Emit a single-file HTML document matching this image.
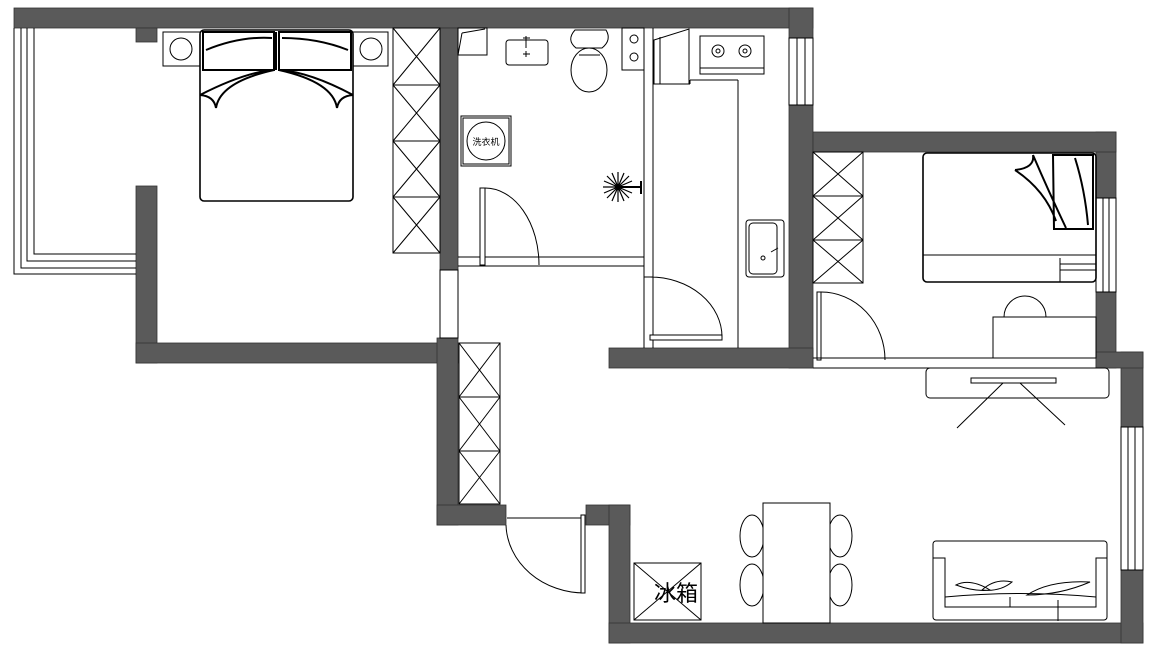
<!DOCTYPE html>
<html><head><meta charset="utf-8"><style>
html,body{margin:0;padding:0;background:#fff;width:1150px;height:665px;overflow:hidden}
svg{display:block}
.w{fill:#5a5a5a;stroke:#333;stroke-width:0.8}
.t{fill:none;stroke:#000;stroke-width:1}
.f{fill:#fff;stroke:#000;stroke-width:1}
.b{fill:none;stroke:#000;stroke-width:2}
</style></head><body>
<svg width="1150" height="665" viewBox="0 0 1150 665" xmlns="http://www.w3.org/2000/svg">
<!-- walls -->
<rect class="w" x="14" y="8" width="799" height="20"/>
<rect class="w" x="136" y="28" width="21" height="14"/>
<rect class="w" x="136" y="186" width="21" height="177"/>
<rect class="w" x="136" y="343" width="322" height="20"/>
<rect class="w" x="440" y="28" width="18" height="242"/>
<rect class="w" x="437" y="338" width="21" height="187"/>
<rect class="w" x="437" y="505" width="69" height="20"/>
<rect class="w" x="586" y="505" width="44" height="20"/>
<rect class="w" x="609" y="505" width="21" height="138"/>
<rect class="w" x="609" y="623" width="534" height="20"/>
<rect class="w" x="1121" y="352" width="22" height="291"/>
<rect class="w" x="1096" y="132" width="20" height="236"/>
<rect class="w" x="1096" y="352" width="47" height="16"/>
<rect class="w" x="789" y="8" width="24" height="360"/>
<rect class="w" x="813" y="132" width="303" height="20"/>
<rect class="w" x="609" y="348" width="204" height="20"/>
<!-- windows -->
<path class="t" d="M14 28V274H136M21 28V268H136M27 28V261H136M34 28V254H136"/>
<rect class="f" x="789" y="38" width="24" height="67"/>
<path class="t" d="M797 38V105M805 38V105"/>
<rect class="f" x="1096" y="198" width="20" height="94"/>
<path class="t" d="M1103 198V292M1109 198V292"/>
<rect class="f" x="1121" y="427" width="22" height="143"/>
<path class="t" d="M1128 427V570M1135 427V570"/>
<!-- door opening between bedroom1 & living -->
<rect class="f" x="440" y="270" width="18" height="68"/>
<!-- bedroom1 wardrobe -->
<rect class="f" x="393" y="28" width="47" height="225"/>
<path class="t" d="M393 85H440M393 141H440M393 197H440M393 28L440 85M440 28L393 85M393 85L440 141M440 85L393 141M393 141L440 197M440 141L393 197M393 197L440 253M440 197L393 253"/>
<!-- nightstands -->
<rect class="f" x="163" y="32" width="37" height="34"/><circle class="t" cx="181" cy="49" r="11"/>
<rect class="f" x="353" y="32" width="35" height="34"/><circle class="t" cx="371" cy="49" r="11"/>
<!-- bed1 -->
<rect class="f" x="200" y="30" width="153" height="171" rx="4" style="stroke-width:1.6"/>
<path class="b" d="M203 32H274V70H203ZM279 32H351V70H279Z"/>
<path class="b" d="M276 32V70M206 50Q240 36 272 38M282 38Q318 38 348 50M200 95Q245 72 274 70M353 95Q310 72 279 70M200 95Q214 96 216 108M353 95Q339 96 337 108M216 108Q220 82 274 70M337 108Q333 82 279 70"/>
<!-- bathroom -->
<path class="t" d="M644 28V348M653 28V348M458 257H644M458 266H644"/>
<path class="f" d="M458 28H487V55H458Z"/><path class="t" d="M462 33L485 29M462 33L458 55"/>
<rect class="f" x="506" y="40" width="42" height="25" rx="3"/><path class="t" d="M526 36V48M523 38H530M526 51V57M523 54H530"/>
<path class="f" d="M575 30H606Q612 40 602 48H576Q566 40 575 30Z"/><ellipse class="f" cx="589" cy="70" rx="18" ry="22"/><path class="t" d="M579 55H600"/>
<rect class="f" x="622" y="28" width="22" height="42"/><circle class="t" cx="634" cy="39" r="4"/><circle class="t" cx="634" cy="57" r="4"/>
<rect class="f" x="461" y="116" width="50" height="50"/><rect class="t" x="463" y="118" width="46" height="46"/><circle class="t" cx="486" cy="141" r="19"/>
<text x="486" y="145" font-family="Liberation Sans, Noto Sans CJK SC, sans-serif" font-size="9" text-anchor="middle">洗衣机</text>
<g stroke="#000" stroke-width="1.2"><path d="M603 187H633M618 172V202M607 176L629 198M629 176L607 198M604 181L632 193M604 193L632 181M612 173L624 201M624 173L612 201"/></g>
<path class="b" d="M618 187H641M641 181V194"/>
<!-- bath door -->
<rect class="f" x="480" y="188" width="5" height="77"/>
<path class="t" d="M485 188A54 77 0 0 1 539 265"/>
<!-- kitchen -->
<path class="t" d="M653 84H690M690 80V84M738 80V348M690 80H738"/>
<path class="f" d="M654 84V40L689 29V84Z"/><path class="t" d="M660 37V84"/>
<rect class="f" x="700" y="36" width="64" height="38"/><path class="t" d="M700 68H764"/>
<circle class="t" cx="718" cy="51" r="6"/><circle class="t" cx="745" cy="51" r="6"/><circle class="t" cx="718" cy="51" r="2"/><circle class="t" cx="745" cy="51" r="2"/>
<rect class="f" x="746" y="220" width="38" height="57" rx="3"/><rect class="t" x="749" y="223" width="28" height="51" rx="4"/>
<circle class="t" cx="763" cy="258" r="2"/><path class="t" d="M771 252L778 248"/>
<!-- kitchen door -->
<rect class="f" x="650" y="335" width="72" height="5"/>
<path class="t" d="M650 277A72 60 0 0 1 722 337M644 277H653"/>
<!-- bedroom2 -->
<rect class="f" x="813" y="152" width="50" height="131"/>
<path class="t" d="M813 196H863M813 240H863M813 152L863 196M863 152L813 196M813 196L863 240M863 196L813 240M813 240L863 283M863 240L813 283"/>
<rect class="f" x="923" y="153" width="173" height="129" rx="4" style="stroke-width:1.6"/>
<path class="t" d="M923 255H1096M1060 258V282M1060 264H1096M1060 270H1096"/>
<path class="b" d="M1053 155H1093V229H1054ZM1015 170Q1035 168 1033 155M1015 170Q1045 190 1056 221M1033 155Q1048 190 1066 228M1075 158Q1085 190 1088 225"/>
<rect class="f" x="993" y="317" width="103" height="41"/>
<path class="f" d="M1004 317A21 21 0 0 1 1046 317Z"/>
<rect class="f" x="817" y="292" width="4" height="68"/>
<path class="t" d="M821 292A64 68 0 0 1 885 360M813 358H1096M813 368H1096"/>
<!-- tv -->
<rect class="f" x="926" y="368" width="183" height="30" rx="4"/>
<rect class="f" x="971" y="378" width="85" height="5"/>
<path class="t" d="M1003 383L957 428M1020 383L1065 425"/>
<!-- living wardrobe -->
<rect class="f" x="459" y="343" width="41" height="161"/>
<path class="t" d="M459 397H500M459 451H500M459 343L500 397M500 343L459 397M459 397L500 451M500 397L459 451M459 451L500 504M500 451L459 504"/>
<!-- entrance door -->
<path class="t" d="M507 518H585M506 525A79 70 0 0 0 585 593"/>
<rect class="f" x="581" y="515" width="4" height="78"/>
<!-- fridge -->
<rect class="f" x="634" y="563" width="67" height="57"/>
<path class="t" d="M634 563L701 620M701 563L634 620"/>
<text x="676" y="601" font-family="Liberation Sans, Noto Sans CJK SC, sans-serif" font-size="22" text-anchor="middle">冰箱</text>
<!-- dining -->
<ellipse class="f" cx="752" cy="536" rx="12" ry="21"/><ellipse class="f" cx="752" cy="585" rx="12" ry="21"/>
<ellipse class="f" cx="840" cy="536" rx="12" ry="21"/><ellipse class="f" cx="840" cy="585" rx="12" ry="21"/>
<rect class="f" x="763" y="503" width="67" height="120"/>
<!-- sofa -->
<rect class="f" x="933" y="541" width="174" height="79" rx="3"/>
<path class="t" d="M933 558H945V607H1096V558H1107M945 597Q1020 590 1096 597M1010 597V607M1058 600V621"/>
<path class="t" d="M956 585Q970 578 990 590Q975 592 956 585ZM982 590Q995 578 1012 582Q1000 592 982 590ZM1027 595Q1050 580 1090 582Q1060 595 1027 595Z"/>
</svg>
</body></html>
